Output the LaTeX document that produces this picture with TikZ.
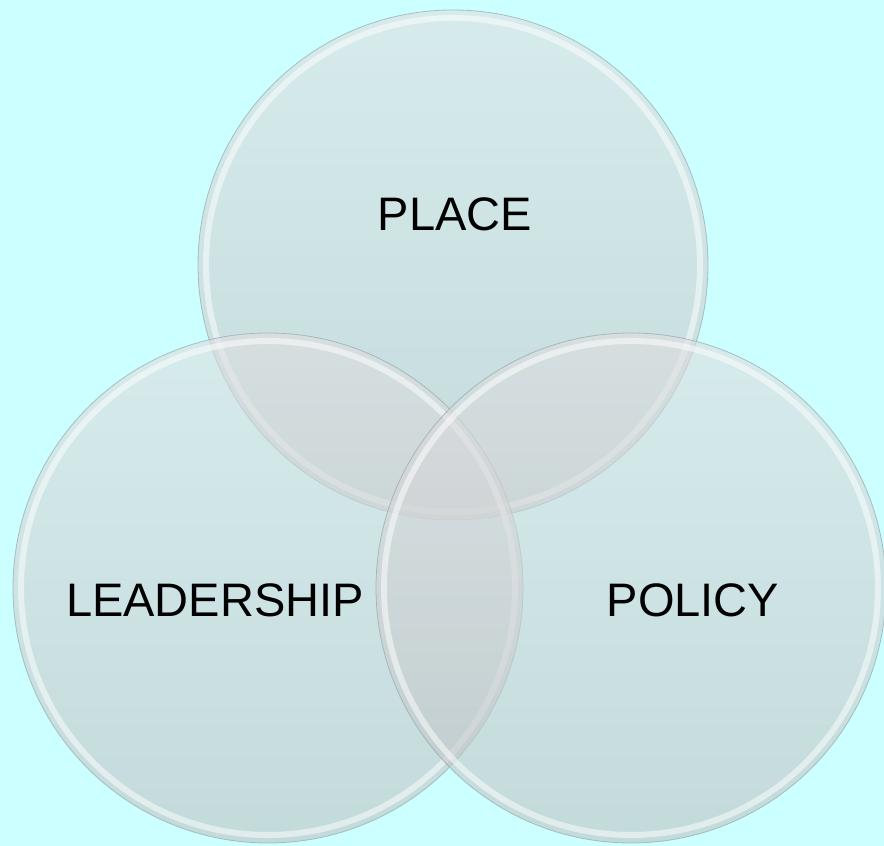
\documentclass[tikz,border=0pt]{standalone}
\usepackage{fontspec}
\setmainfont{Liberation Sans}
\definecolor{bgcyan}{RGB}{204,255,255}
\definecolor{discTop}{RGB}{222,222,224}
\definecolor{discBot}{RGB}{190,194,196}
\definecolor{rimEdge}{RGB}{150,168,170}

\begin{document}
\begin{tikzpicture}[line cap=round,line join=round,x=1pt,y=1pt,
	disc/.style={top color=discTop,bottom color=discBot,fill opacity=0.6},
	rim/.style={draw=white,line width=6pt,opacity=0.5},
	edge/.style={draw=rimEdge,line width=0.8pt,opacity=0.7},
	lbl/.style={font=\fontsize{47}{56}\selectfont,inner sep=0pt}]
	\useasboundingbox (0,0) rectangle (884,846);
	\fill[bgcyan] (0,0) rectangle (884,846);
	% circle centres
	\coordinate (ctop) at (453,581);
	\coordinate (cleft) at (268,258);
	\coordinate (cright) at (631,258);
	% discs
	\foreach \c in {ctop,cleft,cright}{
		\shade[disc] (\c) circle (255);
		\draw[rim] (\c) circle (247);
		\draw[edge] (\c) circle (255);
	}
	% labels
	\node[lbl] (place) at (455,631.5) {PLACE};
	\node[lbl] (leadership) at (215,246) {LEADERSHIP};
	\node[lbl] (policy) at (693,246) {POLICY};
\end{tikzpicture}
\end{document}
